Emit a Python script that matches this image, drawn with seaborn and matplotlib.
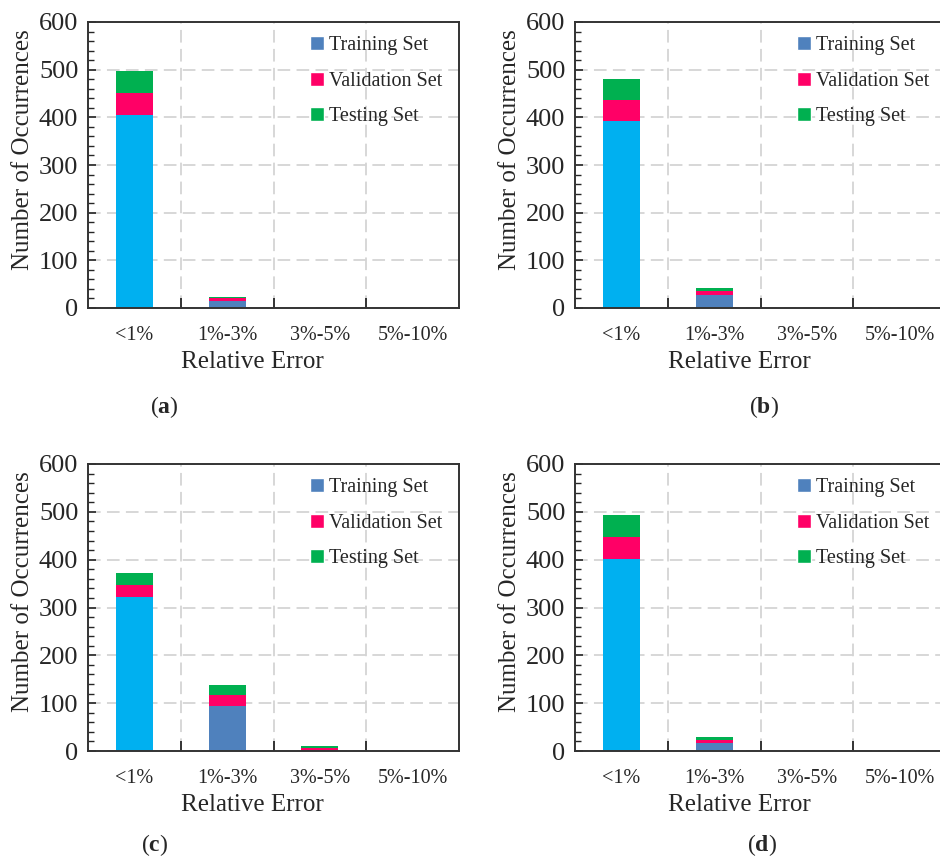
import matplotlib
matplotlib.use("Agg")
import matplotlib.pyplot as plt
from matplotlib.patches import Patch
from matplotlib.ticker import MultipleLocator, FixedLocator
import numpy as np
import pandas as pd
import seaborn as sns

categories = ["<1%", "1%-3%", "3%-5%", "5%-10%"]
set_names = ["Training Set", "Validation Set", "Testing Set"]

train_a = [404, 15, 0, 0]
val_a = [47, 5, 0, 0]
test_a = [47, 4, 0, 0]

train_b = [393, 27, 0, 0]
val_b = [43, 9, 0, 0]
test_b = [44, 7, 0, 0]

train_c = [321, 94, 3, 0]
val_c = [25, 24, 4, 0]
test_c = [27, 19, 3, 1]

train_d = [401, 17, 0, 0]
val_d = [46, 7, 0, 0]
test_d = [46, 5, 0, 0]

panel_labels = ["a", "b", "c", "d"]

c_cyan = "#00B0F0"
c_train = "#4F81BD"
c_val = "#FF0066"
c_test = "#00B050"
grid_col = "#D4D4D4"

sns.set_style("white")
plt.rcParams["font.family"] = ["Liberation Serif", "DejaVu Serif"]
plt.rcParams["mathtext.fontset"] = "custom"
plt.rcParams["mathtext.rm"] = "Liberation Serif"
plt.rcParams["mathtext.bf"] = "Liberation Serif:bold"

W, H = 940, 859
fig = plt.figure(figsize=(W / 100, H / 100), dpi=100)

# axes boxes in pixels: left, top, right, bottom
boxes = [(88, 22, 459, 308), (575, 22, 946, 308),
         (88, 464, 459, 751), (575, 464, 946, 751)]
label_pos = [(164, 407), (764, 407), (155, 845), (762, 845)]
panels = [(train_a, val_a, test_a), (train_b, val_b, test_b),
          (train_c, val_c, test_c), (train_d, val_d, test_d)]


def draw_panel(ax, train, val, test):
    df = pd.DataFrame({"cat": categories,
                       "train": train,
                       "tv": np.add(train, val),
                       "total": np.add(np.add(train, val), test)})
    # stacked look: draw cumulative totals back to front
    sns.barplot(data=df, x="cat", y="total", color=c_test, width=0.4,
                saturation=1, linewidth=0, ax=ax)
    sns.barplot(data=df, x="cat", y="tv", color=c_val, width=0.4,
                saturation=1, linewidth=0, ax=ax)
    pal = {categories[0]: c_cyan}
    pal.update({c: c_train for c in categories[1:]})
    sns.barplot(data=df, x="cat", y="train", hue="cat", palette=pal,
                width=0.4, saturation=1, linewidth=0, legend=False, ax=ax)

    ax.set_xlim(-0.5, 3.5)
    ax.set_ylim(0, 600)
    ax.yaxis.set_major_locator(MultipleLocator(100))
    ax.yaxis.set_minor_locator(MultipleLocator(20))
    ax.xaxis.set_minor_locator(FixedLocator([0.5, 1.5, 2.5]))
    ax.set_xticks(range(4))
    ax.set_xticklabels(categories)
    ax.tick_params(axis="x", which="major", length=0, labelsize=14.5, pad=13)
    ax.tick_params(axis="x", which="minor", direction="in", length=7,
                   width=1.3, bottom=True)
    ax.tick_params(axis="y", which="major", direction="in", length=6,
                   width=1.2, labelsize=19, pad=7, left=True)
    ax.tick_params(axis="y", which="minor", direction="in", length=4,
                   width=1.0, left=True)
    ax.grid(axis="y", which="major", color=grid_col, linestyle=(0, (7, 3.5)),
            linewidth=1.3)
    ax.grid(axis="x", which="minor", color=grid_col, linestyle=(0, (7, 3.5)),
            linewidth=1.3)
    ax.set_axisbelow(True)
    for s in ax.spines.values():
        s.set_linewidth(1.4)
        s.set_color("#333333")

    ax.set_ylabel("Number of Occurrences", fontsize=18)
    ax.yaxis.set_label_coords(-0.145, 0.555)
    ax.set_xlabel("Relative Error", fontsize=18)
    ax.xaxis.set_label_coords(0.442, -0.189)
    ax.xaxis.label.set_va("center")

    handles = [Patch(facecolor=c) for c in (c_train, c_val, c_test)]
    ax.legend(handles, set_names, loc="upper left",
              bbox_to_anchor=(0.56, 1.0), frameon=False, fontsize=14.5,
              handlelength=0.7, handleheight=0.7, handletextpad=0.25,
              labelspacing=0.82, borderaxespad=0.3)


for box, data, lab, lp in zip(boxes, panels, panel_labels, label_pos):
    l, t, r, b = box
    ax = fig.add_axes([l / W, 1 - b / H, (r - l) / W, (b - t) / H])
    draw_panel(ax, *data)
    fig.text(lp[0] / W, 1 - lp[1] / H, "(" + r"$\mathbf{" + lab + "}$" + ")",
             ha="center", va="center", fontsize=17)

fig.savefig("out.png", dpi=100)
